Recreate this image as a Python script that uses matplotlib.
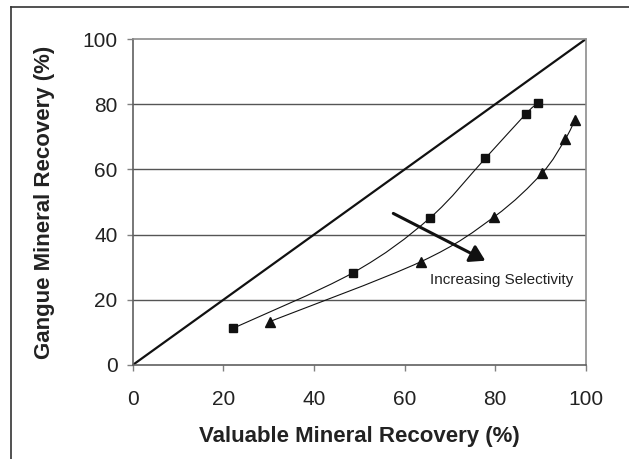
import numpy as np
import matplotlib
matplotlib.use("Agg")
import matplotlib.pyplot as plt
from matplotlib.path import Path
from matplotlib.patches import PathPatch
from matplotlib.lines import Line2D

plt.rcParams['font.family'] = ['Liberation Sans', 'DejaVu Sans']

# data
sq_x = [22.2, 48.6, 65.5, 77.8, 86.8, 89.5]
sq_y = [11.3, 28.3, 45.0, 63.4, 77.1, 80.5]
tri_x = [30.2, 63.6, 79.8, 90.3, 95.4, 97.6]
tri_y = [13.3, 31.7, 45.5, 58.8, 69.2, 75.2]
diag_x = [0, 100]
diag_y = [0, 100]
ticks = [0, 20, 40, 60, 80, 100]
arrow_start = (57.5, 46.5)
arrow_end = (77.8, 32.0)
annot_text = "Increasing Selectivity"
annot_pos = (65.5, 26.0)


def smooth_path(xs, ys):
    pts = np.column_stack([xs, ys]).astype(float)
    n = len(pts)
    verts = [pts[0]]
    codes = [Path.MOVETO]
    for i in range(n - 1):
        p0 = pts[i - 1] if i > 0 else pts[i]
        p1 = pts[i]
        p2 = pts[i + 1]
        p3 = pts[i + 2] if i + 2 < n else pts[i + 1]
        c1 = p1 + (p2 - p0) / 6.0
        c2 = p2 - (p3 - p1) / 6.0
        verts += [c1, c2, p2]
        codes += [Path.CURVE4] * 3
    return Path(verts, codes)


fig = plt.figure(figsize=(6.29, 4.59), dpi=100)
ax = fig.add_axes([0.211, 0.2048, 0.7205, 0.7102])

ax.set_xlim(0, 100)
ax.set_ylim(0, 100)
ax.set_xticks(ticks)
ax.set_yticks(ticks)
ax.tick_params(axis='both', direction='out', length=4, width=1, color='#808080',
               labelsize=15, labelcolor='#222222')
ax.tick_params(axis='x', pad=14)
ax.tick_params(axis='y', pad=7)
for s in ax.spines.values():
    s.set_color('#8c8c8c')
    s.set_linewidth(1.2)
ax.spines['bottom'].set_color('#606060')
ax.spines['left'].set_color('#606060')

for t in ticks[1:-1]:
    ax.axhline(t, color='#555555', lw=1.0, zorder=1)

ax.plot(diag_x, diag_y, color='#111111', lw=1.6, zorder=2)

for xs, ys in [(sq_x, sq_y), (tri_x, tri_y)]:
    ax.add_patch(PathPatch(smooth_path(xs, ys), facecolor='none',
                           edgecolor='#111111', lw=0.8, zorder=3))
ax.plot(sq_x, sq_y, ls='none', marker='s', ms=6, color='#111111', zorder=4)
ax.plot(tri_x, tri_y, ls='none', marker='^', ms=7, color='#111111', zorder=4)

ax.annotate('', xy=arrow_end, xytext=arrow_start,
            arrowprops=dict(arrowstyle='-|>,head_length=0.9,head_width=0.55',
                            color='#111111', lw=2.2, shrinkA=0, shrinkB=0),
            zorder=5)
ax.text(annot_pos[0], annot_pos[1], annot_text, fontsize=11, color='#222222',
        va='center', ha='left')

ax.set_xlabel('Valuable Mineral Recovery (%)', fontsize=16, fontweight='bold',
              color='#222222', labelpad=12)
ax.set_ylabel('Gangue Mineral Recovery (%)', fontsize=16, fontweight='bold',
              color='#222222', labelpad=20)

# partial outer frame (top and left)
fig.add_artist(Line2D([11 / 629, 1.0], [1 - 7 / 459, 1 - 7 / 459],
                      transform=fig.transFigure, color='#333333', lw=1.2))
fig.add_artist(Line2D([11 / 629, 11 / 629], [0, 1 - 7 / 459],
                      transform=fig.transFigure, color='#333333', lw=1.2))

fig.savefig('out.png', dpi=100)
